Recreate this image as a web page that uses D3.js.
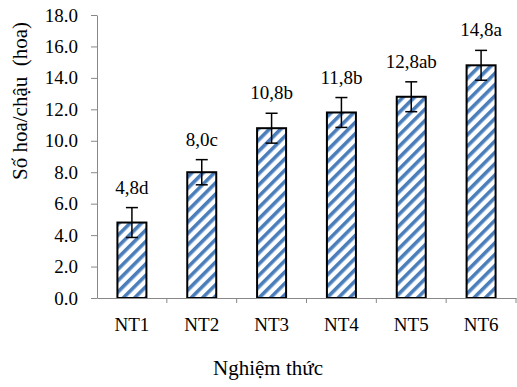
<!DOCTYPE html>
<html>
<head>
<meta charset="utf-8">
<script src="https://cdn.jsdelivr.net/npm/d3@7"></script>
</head>
<body style="margin:0">
<svg id="chart" width="517" height="387" font-family="Liberation Serif"></svg>
<script>
// data
var categories = ["NT1", "NT2", "NT3", "NT4", "NT5", "NT6"];
var values = [4.8, 8.0, 10.8, 11.8, 12.8, 14.8];
var errors = [0.95, 0.8, 0.95, 0.95, 0.95, 0.95];
var letters = ["4,8d", "8,0c", "10,8b", "11,8b", "12,8ab", "14,8a"];
var yTicks = [0, 2, 4, 6, 8, 10, 12, 14, 16, 18];

var FONT = "Liberation Serif";
var FS = 19;

var svg = d3.select("#chart");
var mLeft = 97, mRight = 516, mTop = 15, mBottom = 298;

var x = d3.scaleBand().domain(categories).range([mLeft, mRight]).paddingInner(0).paddingOuter(0);
var y = d3.scaleLinear().domain([0, 18]).range([mBottom, mTop]);

// hatch pattern
var defs = svg.append("defs");
var pat = defs.append("pattern")
  .attr("id", "hatch")
  .attr("patternUnits", "userSpaceOnUse")
  .attr("width", 8).attr("height", 8)
  .attr("patternTransform", "rotate(45)");
pat.append("rect").attr("width", 8).attr("height", 8).attr("fill", "#fff");
pat.append("rect").attr("x", 0).attr("width", 3.6).attr("height", 8).attr("fill", "#4a7ebb");

// y axis
var yAxis = svg.append("g")
  .attr("transform", "translate(" + mLeft + ",0)")
  .call(d3.axisLeft(y).tickValues(yTicks).tickFormat(d3.format(".1f")).tickSize(6).tickSizeOuter(0));
yAxis.attr("font-family", FONT).attr("font-size", FS);
yAxis.select(".domain").attr("stroke", "#888");
yAxis.selectAll(".tick line").attr("stroke", "#888");
yAxis.selectAll(".tick text").attr("x", -19).attr("fill", "#000")
  .style("font-family", FONT).style("font-size", FS + "px");

// bars
var barW = 29;
svg.selectAll("rect.bar").data(values).enter().append("rect")
  .attr("class", "bar")
  .attr("x", function(d, i) { return x(categories[i]) + x.bandwidth() / 2 - barW / 2; })
  .attr("y", function(d) { return y(d); })
  .attr("width", barW)
  .attr("height", function(d) { return y(0) - y(d); })
  .attr("fill", "url(#hatch)")
  .attr("stroke", "#000")
  .attr("stroke-width", 2);

// x axis
var xAxis = svg.append("g")
  .attr("transform", "translate(0," + mBottom + ")")
  .call(d3.axisBottom(x).tickSize(0).tickSizeOuter(0));
xAxis.attr("font-family", FONT).attr("font-size", FS);
xAxis.select(".domain").attr("stroke", "#888").attr("stroke-width", 1.2);
xAxis.selectAll(".tick text").attr("dy", "0.71em").attr("y", 20).attr("fill", "#000")
  .style("font-family", FONT).style("font-size", FS + "px");
// boundary ticks between categories
svg.append("g").selectAll("line").data(categories).enter().append("line")
  .attr("x1", function(d) { return x(d) + x.bandwidth(); })
  .attr("x2", function(d) { return x(d) + x.bandwidth(); })
  .attr("y1", mBottom).attr("y2", mBottom + 5)
  .attr("stroke", "#888");

// error bars
var eb = svg.append("g").attr("stroke", "#000").attr("stroke-width", 1.5);
values.forEach(function(v, i) {
  var cx = x(categories[i]) + x.bandwidth() / 2;
  eb.append("line").attr("x1", cx).attr("x2", cx).attr("y1", y(v + errors[i])).attr("y2", y(v - errors[i]));
  eb.append("line").attr("x1", cx - 6).attr("x2", cx + 6).attr("y1", y(v + errors[i])).attr("y2", y(v + errors[i]));
  eb.append("line").attr("x1", cx - 6).attr("x2", cx + 6).attr("y1", y(v - errors[i])).attr("y2", y(v - errors[i]));
});

// data labels
svg.selectAll("text.lbl").data(values).enter().append("text")
  .attr("class", "lbl")
  .attr("x", function(d, i) { return x(categories[i]) + x.bandwidth() / 2; })
  .attr("y", function(d, i) { return y(d + errors[i]) - 14; })
  .attr("text-anchor", "middle")
  .style("font-family", FONT).style("font-size", FS + "px")
  .text(function(d, i) { return letters[i]; });

// axis titles
svg.append("text")
  .attr("transform", "translate(27,101) rotate(-90)")
  .attr("text-anchor", "middle")
  .style("font-family", FONT).style("font-size", "21px")
  .style("white-space", "pre")
  .text("Số hoa/chậu  (hoa)");

svg.append("text")
  .attr("x", 268).attr("y", 375)
  .attr("text-anchor", "middle")
  .style("font-family", FONT).style("font-size", "21px")
  .text("Nghiệm thức");
</script>
</body>
</html>
